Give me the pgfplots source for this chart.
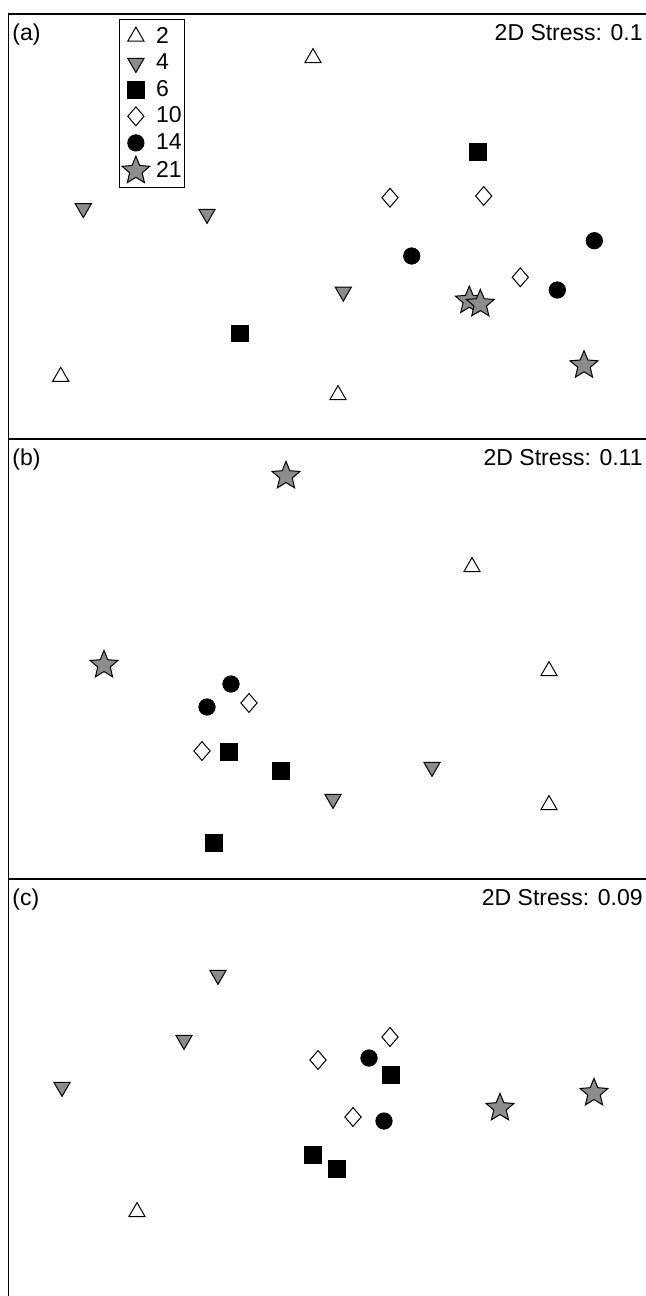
\documentclass[border=0pt]{standalone}
\usepackage{pgfplots}
\pgfplotsset{compat=1.18}
\usepackage{fontspec}
\setmainfont{Liberation Sans}
\definecolor{mgray}{RGB}{140,140,140}
\pgfdeclareplotmark{fstar}{%
  \pgfpathmoveto{\pgfpointpolar{90}{\pgfplotmarksize}}%
  \pgfpathlineto{\pgfpointpolar{126}{0.45\pgfplotmarksize}}%
  \pgfpathlineto{\pgfpointpolar{162}{\pgfplotmarksize}}%
  \pgfpathlineto{\pgfpointpolar{198}{0.45\pgfplotmarksize}}%
  \pgfpathlineto{\pgfpointpolar{234}{\pgfplotmarksize}}%
  \pgfpathlineto{\pgfpointpolar{270}{0.45\pgfplotmarksize}}%
  \pgfpathlineto{\pgfpointpolar{306}{\pgfplotmarksize}}%
  \pgfpathlineto{\pgfpointpolar{342}{0.45\pgfplotmarksize}}%
  \pgfpathlineto{\pgfpointpolar{18}{\pgfplotmarksize}}%
  \pgfpathlineto{\pgfpointpolar{54}{0.45\pgfplotmarksize}}%
  \pgfpathclose
  \pgfusepathqfillstroke
}
\pgfplotsset{
  tri/.style={only marks, color=black, mark=triangle*, mark size=4.7pt, mark options={fill=white, draw=black, line width=0.5pt}},
  dtri/.style={only marks, color=black, mark=triangle*, mark size=4.7pt, mark options={rotate=180, fill=mgray, draw=black, line width=0.5pt}},
  sq/.style={only marks, color=black, mark=square*, mark size=4.1pt, mark options={fill=black, draw=black, line width=0.4pt}},
  dia/.style={only marks, color=black, mark=diamond*, mark size=4.7pt, mark options={xscale=1.15, fill=white, draw=black, line width=0.5pt}},
  circ/.style={only marks, color=black, mark=*, mark size=4.1pt, mark options={fill=black, draw=black, line width=0.4pt}},
  star/.style={only marks, color=black, mark=fstar, mark size=7.3pt, mark options={fill=mgray, draw=black, line width=0.5pt}},
  panel/.style={scale only axis, width=318.75pt, xmin=8.5, xmax=646, hide axis, clip=false, anchor=north west},
}
\begin{document}
\begin{tikzpicture}[font=\fontsize{11.5}{14}\selectfont]
\path[use as bounding box] (0pt,0pt) rectangle (323pt,-648pt);

% ---------------- panel (a)
\begin{axis}[panel, at={(4.25pt,-7pt)}, height=212.5pt, ymin=857, ymax=1282,
  legend cell align=left,
  legend image code/.code={\draw[#1] plot coordinates {(0pt,0pt)};},
  legend style={at={(axis cs:119,1277)}, anchor=north west, draw=black, line width=0.6pt,
    fill=white, inner xsep=1.2pt, inner ysep=1.8pt, row sep=0pt,
    font=\fontsize{11.5}{14}\selectfont,
    nodes={inner sep=0pt, minimum height=13.3pt},
    /tikz/every odd column/.append style={column sep=3.2pt}}]
\addplot[tri]  coordinates {(313,1238) (60.7,919.3) (338,901)};
\addplot[dtri] coordinates {(83.3,1087.7) (207,1082) (343.3,1004.3)};
\addplot[sq]   coordinates {(477.7,1144.3) (240,962.7)};
\addplot[dia]  coordinates {(390,1098.3) (483.7,1100) (520.3,1018.7)};
\addplot[circ] coordinates {(411.7,1040) (594.3,1055.3) (557.3,1006)};
\addplot[star] coordinates {(469.3,995.3) (480.3,992) (584,930.7)};
\legend{2,4,6,10,14,21}
\draw[line width=0.7pt] (rel axis cs:0,0) -- (rel axis cs:0,1) -- (rel axis cs:1,1);
\node[anchor=base west, inner sep=0pt] at (axis cs:12,1256) {(a)};
\node[anchor=base east, inner sep=0pt] at (axis cs:643,1256) {2D Stress: 0.1};
\end{axis}

% ---------------- panel (b)
\begin{axis}[panel, at={(4.25pt,-219.5pt)}, height=220pt, ymin=417, ymax=857]
\addplot[tri]  coordinates {(472,729) (549,625) (549,491)};
\addplot[dtri] coordinates {(432,529) (333,497)};
\addplot[sq]   coordinates {(229,544) (281,525) (214,453)};
\addplot[dia]  coordinates {(249,593) (202,545)};
\addplot[circ] coordinates {(231,612) (207,589)};
\addplot[star] coordinates {(286,820) (104,631)};
\draw[line width=0.7pt] (rel axis cs:0,0) -- (rel axis cs:0,1) -- (rel axis cs:1,1);
\node[anchor=base west, inner sep=0pt] at (axis cs:12,831) {(b)};
\node[anchor=base east, inner sep=0pt] at (axis cs:643,831) {2D Stress: 0.11};
\end{axis}

% ---------------- panel (c)
\begin{axis}[panel, at={(4.25pt,-439.5pt)}, height=208.5pt, ymin=0, ymax=417]
\addplot[tri]  coordinates {(137,84)};
\addplot[dtri] coordinates {(218,321) (184,256) (62,209)};
\addplot[sq]   coordinates {(391,221) (313,141) (337,127)};
\addplot[dia]  coordinates {(390,259) (318,236) (353,179)};
\addplot[circ] coordinates {(369,238) (384,175)};
\addplot[star] coordinates {(500,188) (594,203)};
\draw[line width=0.7pt] (rel axis cs:0,0) -- (rel axis cs:0,1) -- (rel axis cs:1,1);
\node[anchor=base west, inner sep=0pt] at (axis cs:12,391) {(c)};
\node[anchor=base east, inner sep=0pt] at (axis cs:643,391) {2D Stress: 0.09};
\end{axis}
\end{tikzpicture}
\end{document}
